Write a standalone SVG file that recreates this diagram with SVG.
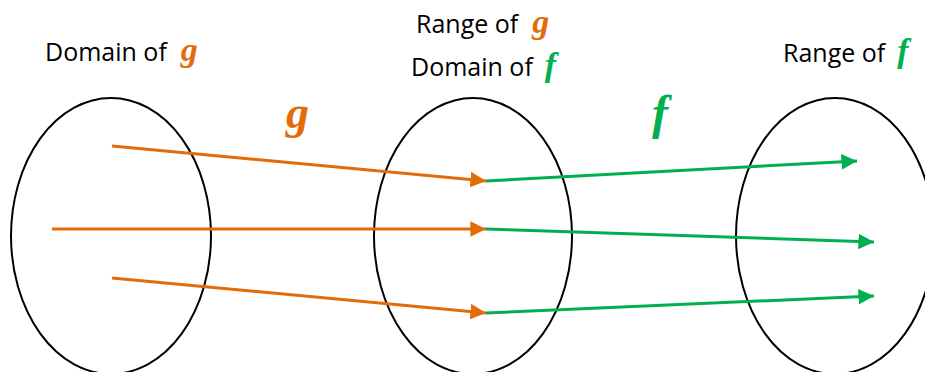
<svg xmlns="http://www.w3.org/2000/svg" width="925" height="372" viewBox="0 0 925 372">
<style>
.set{fill:none;stroke:#000;stroke-width:2}
.lbl{font-family:"Open Sans","Noto Sans",sans-serif;font-size:25px;fill:#000}
.fn{font-family:"Liberation Serif",serif;font-style:italic;font-weight:bold}
.g{fill:#E36C09}
.f{fill:#00B050}
.ao{stroke:#E36C09;stroke-width:3;fill:none;marker-end:url(#mo)}
.ag{stroke:#00B050;stroke-width:3;fill:none;marker-end:url(#mg)}
</style>
<defs>
<marker id="mo" viewBox="0 0 10 10" refX="10" refY="5" markerWidth="5.2" markerHeight="5.2" orient="auto" markerUnits="strokeWidth"><path d="M0,0 L10,5 L0,10 z" fill="#E36C09"/></marker>
<marker id="mg" viewBox="0 0 10 10" refX="10" refY="5" markerWidth="5.2" markerHeight="5.2" orient="auto" markerUnits="strokeWidth"><path d="M0,0 L10,5 L0,10 z" fill="#00B050"/></marker>
</defs>
<rect width="925" height="372" fill="#fff"/>
<g id="domain-g">
<ellipse class="set" cx="111" cy="236" rx="100" ry="138"/>
<text class="lbl" x="45" y="61">Domain of<tspan class="fn g" font-size="34" dx="14">g</tspan></text>
</g>
<g id="range-g-domain-f">
<ellipse class="set" cx="473" cy="236" rx="99" ry="138"/>
<text class="lbl" x="416" y="33">Range of<tspan class="fn g" font-size="34" dx="14">g</tspan></text>
<text class="lbl" x="411" y="76">Domain of<tspan class="fn f" font-size="34" dx="12">f</tspan></text>
</g>
<g id="range-f">
<ellipse class="set" cx="835" cy="236" rx="99" ry="138"/>
<text class="lbl" x="783" y="62">Range of<tspan class="fn f" font-size="34" dx="12">f</tspan></text>
</g>
<g id="fn-labels">
<text class="fn g" x="286" y="128" font-size="46">g</text>
<text class="fn f" x="652" y="129" font-size="48">f</text>
</g>
<g id="connectors">
<line class="ao" x1="112" y1="146" x2="486" y2="181"/>
<line class="ao" x1="52" y1="229" x2="486" y2="229"/>
<line class="ao" x1="112" y1="278" x2="486" y2="313"/>
<line class="ag" x1="486" y1="181" x2="857" y2="161"/>
<line class="ag" x1="486" y1="229" x2="874" y2="242"/>
<line class="ag" x1="486" y1="313" x2="874" y2="296"/>
</g>
</svg>
